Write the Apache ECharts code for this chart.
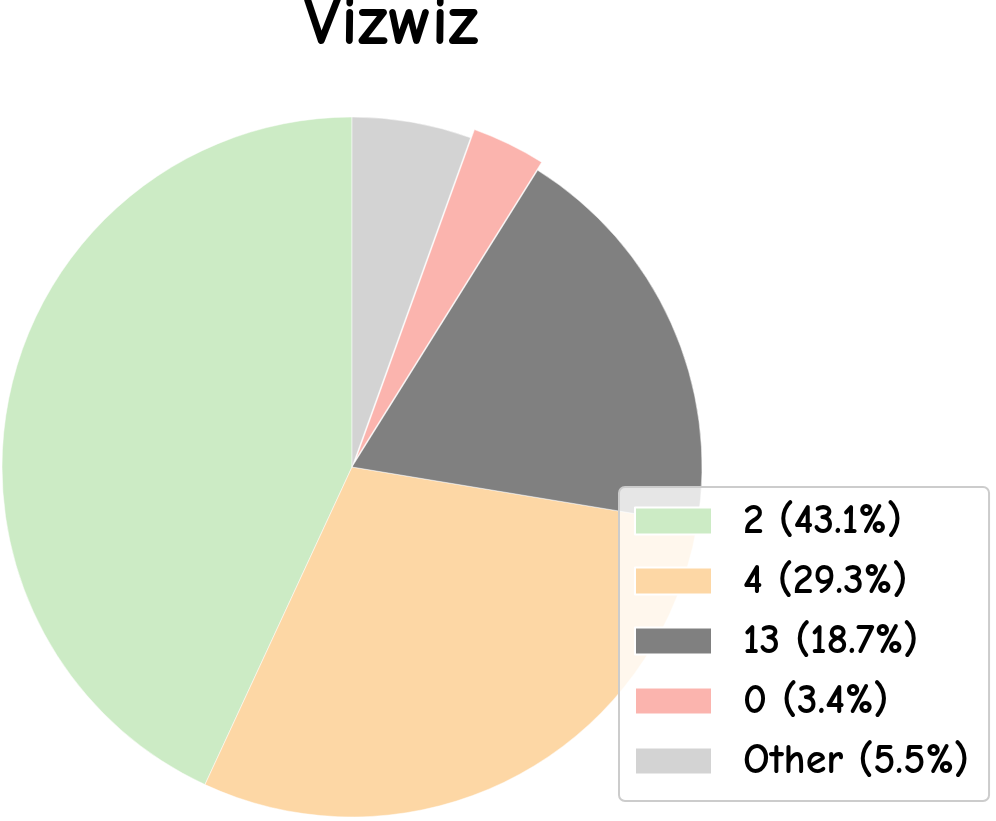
<!DOCTYPE html>
<html>
<head>
<meta charset="utf-8">
<script src="https://cdn.jsdelivr.net/npm/echarts@6/dist/echarts.min.js"></script>
<style>
    html, body { margin: 0; padding: 0; background: #fff; }
    #chart { width: 996px; height: 821px; }
</style>
</head>
<body>
<div id="chart"></div>
<script>
// slice names and shares (%), in drawing order from 12 o'clock, counter-clockwise
var names = ['2', '4', '13', '0', 'Other'];
var shares = [43.1, 29.3, 18.7, 3.4, 5.5];
var colors = ['#ccebc5', '#fdd7a5', '#808080', '#fbb4ae', '#d3d3d3'];
var exploded = '0';

var font = "'Comic Sans MS', 'Comic Neue', 'DejaVu Sans', sans-serif";

var chartDom = document.getElementById('chart');
var myChart = echarts.init(chartDom);

var pieData = names.map(function (n, i) {
    return {
        name: n,
        value: shares[i],
        selected: n === exploded,
        itemStyle: { color: colors[i] }
    };
});

var option = {
    animation: false,
    backgroundColor: '#fff',
    title: {
        text: 'Vizwiz',
        left: 386,
        top: -16,
        textAlign: 'center',
        textStyle: { fontFamily: font, fontSize: 70, fontWeight: 'bold', color: '#000' }
    },
    legend: {
        orient: 'vertical',
        left: 619,
        top: 487,
        height: 330,
        icon: 'rect',
        itemWidth: 77,
        itemHeight: 27,
        itemGap: 18,
        padding: [13, 20, 19, 15],
        selectedMode: false,
        backgroundColor: 'rgba(255,255,255,0.8)',
        borderColor: '#cccccc',
        borderWidth: 2,
        borderRadius: 6,
        data: names,
        formatter: function (name) {
            var i = names.indexOf(name);
            return name + ' (' + shares[i].toFixed(1) + '%)';
        },
        textStyle: {
            fontFamily: font,
            fontSize: 42,
            fontWeight: 'bold',
            color: '#000',
            padding: [0, 0, 0, 26]
        }
    },
    series: [{
        type: 'pie',
        center: [352, 467],
        radius: 350,
        startAngle: 90,
        clockwise: false,
        selectedMode: 'single',
        selectedOffset: 9,
        label: { show: false },
        labelLine: { show: false },
        emphasis: { disabled: true },
        itemStyle: { borderWidth: 0.5, borderColor: '#fff' },
        data: pieData
    }]
};

option && myChart.setOption(option);
</script>
</body>
</html>
